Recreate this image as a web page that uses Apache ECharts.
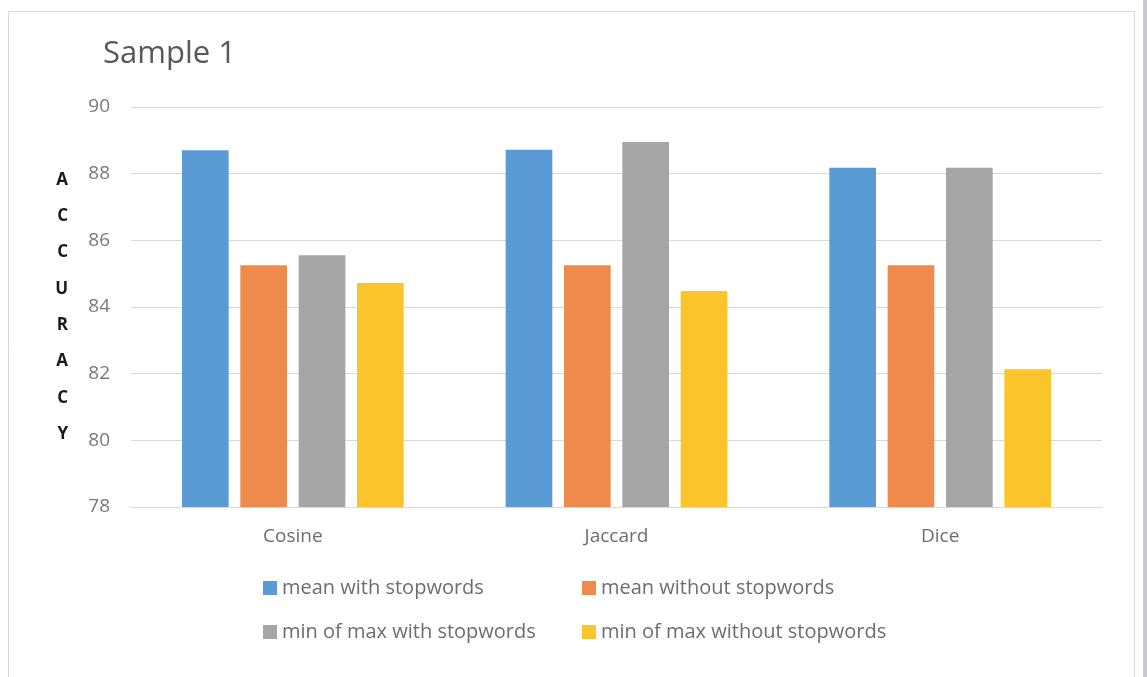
<!DOCTYPE html>
<html>
<head>
<meta charset="utf-8">
<script src="https://cdn.jsdelivr.net/npm/echarts@6/dist/echarts.min.js"></script>
<style>
  html, body { margin: 0; padding: 0; background: #ffffff; }
  #chart { width: 1147px; height: 677px; }
</style>
</head>
<body>
<div id="chart"></div>
<script>
// Similarity measures on the x axis
const categories = ['Cosine', 'Jaccard', 'Dice'];

// Accuracy per measure for each configuration
const meanWithStopwords = [88.7, 88.72, 88.18];
const meanWithoutStopwords = [85.25, 85.25, 85.25];
const minOfMaxWithStopwords = [85.55, 88.95, 88.18];
const minOfMaxWithoutStopwords = [84.72, 84.48, 82.13];

const seriesNames = [
  'mean with stopwords',
  'mean without stopwords',
  'min of max with stopwords',
  'min of max without stopwords'
];
const seriesValues = [meanWithStopwords, meanWithoutStopwords, minOfMaxWithStopwords, minOfMaxWithoutStopwords];
const seriesColors = ['#5b9bd5', '#ed8a4c', '#a5a5a5', '#fbc42a'];

// Value axis range
const yMin = 78, yMax = 90, yStep = 2;

const font = '"Open Sans", "Liberation Sans", sans-serif';
const textGray = '#6d6d6d';

const chart = echarts.init(document.getElementById('chart'), null, { renderer: 'canvas' });

// One legend block per entry so the two rows line up in columns
const legendPos = [
  { left: 258, top: 573 },
  { left: 577, top: 573 },
  { left: 258, top: 617 },
  { left: 577, top: 617 }
];
const legends = seriesNames.map((name, i) => ({
  data: [name],
  left: legendPos[i].left,
  top: legendPos[i].top,
  icon: 'rect',
  itemWidth: 14,
  itemHeight: 14,
  itemGap: 4,
  textStyle: { color: textGray, fontSize: 20, fontFamily: font },
  selectedMode: false
}));

chart.setOption({
  backgroundColor: '#ffffff',
  animation: false,
  title: {
    text: 'Sample 1',
    left: 98,
    top: 34,
    textStyle: { color: '#595959', fontSize: 31, fontWeight: 'normal', fontFamily: font }
  },
  legend: legends,
  grid: { left: 131, right: 45, top: 107, bottom: 170, containLabel: false },
  xAxis: {
    type: 'category',
    data: categories,
    axisTick: { show: false },
    axisLine: { show: true, lineStyle: { color: '#d9d9d9', width: 1 } },
    axisLabel: { color: textGray, fontSize: 19, fontFamily: font, margin: 20 }
  },
  yAxis: {
    type: 'value',
    min: yMin,
    max: yMax,
    interval: yStep,
    name: 'A\nC\nC\nU\nR\nA\nC\nY',
    nameLocation: 'middle',
    nameRotate: 0,
    nameGap: 63,
    nameTextStyle: {
      color: '#1a1a1a',
      fontWeight: 'bold',
      fontSize: 17,
      lineHeight: 36.3,
      fontFamily: font,
      padding: [18, 0, 0, 0]
    },
    axisLine: { show: false },
    axisTick: { show: false },
    axisLabel: { color: '#7a7a7a', fontSize: 19, fontFamily: font, margin: 21 },
    splitLine: { lineStyle: { color: '#d9d9d9', width: 1 } }
  },
  series: seriesNames.map((name, i) => ({
    name: name,
    type: 'bar',
    data: seriesValues[i],
    barGap: '25%',
    barCategoryGap: '31.5%',
    itemStyle: { color: seriesColors[i] }
  })),
  graphic: [
    // chart-area frame
    {
      type: 'rect',
      shape: { x: 8.5, y: 11.5, width: 1126, height: 700 },
      style: { fill: 'none', stroke: '#d9d9d9', lineWidth: 1 },
      silent: true
    },
    // shaded strip at the right edge
    {
      type: 'rect',
      shape: { x: 1143, y: 0, width: 4, height: 677 },
      style: { fill: '#c9c9d1' },
      silent: true
    }
  ]
});
</script>
</body>
</html>
